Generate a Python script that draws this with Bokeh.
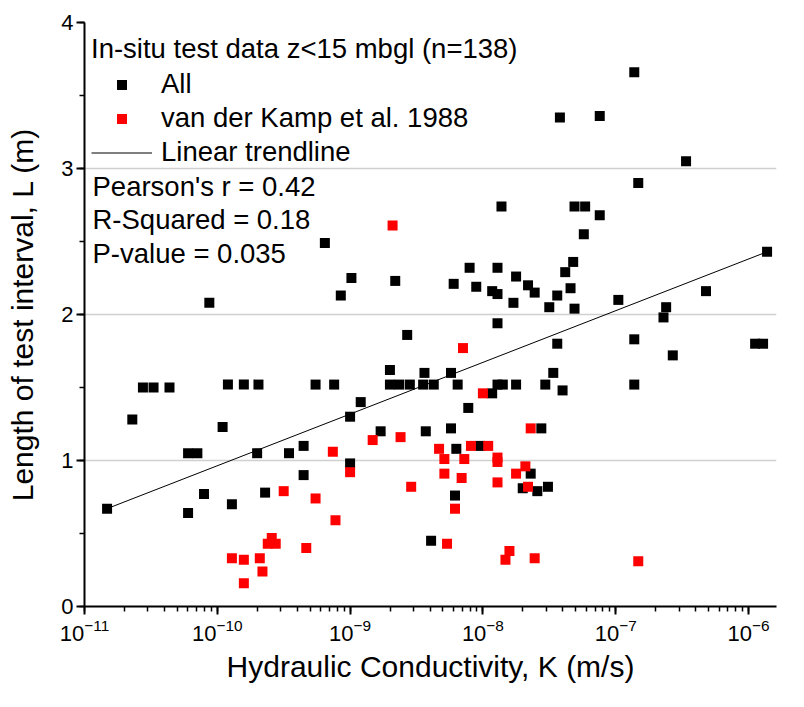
import numpy as np
from bokeh.plotting import figure
from bokeh.models import (ColumnDataSource, Legend, LegendItem, Label, FixedTicker,
                          SingleIntervalTicker, LogTicker, Range1d)
from bokeh.embed import file_html
from bokeh.resources import INLINE

# ---- data: log10 of hydraulic conductivity K (m/s) and test-interval length L (m)
all_log10_k = [-10.83, -10.64, -10.56, -10.48, -10.36, -10.06, -9.96, -10.22, -10.15, -9.70,
               -10.10, -10.22, -9.89, -9.64, -9.92, -9.80, -9.69, -9.26, -9.12, -9.46,
               -9.35, -9.35, -9.00, -8.92, -9.00, -8.77, -8.43, -8.24, -8.20, -8.11,
               -8.39, -8.21, -9.19, -8.99, -9.07, -8.66, -8.22, -8.10, -8.05, -8.57,
               -8.70, -8.44, -8.24, -8.70, -8.63, -8.55, -8.45, -8.37, -8.19, -7.86,
               -7.89, -7.93, -7.89, -7.75, -7.77, -7.66, -7.61, -7.89, -7.89, -7.85,
               -7.75, -7.93, -8.02, -7.64, -7.70, -7.59, -7.51, -7.56, -7.53, -7.40,
               -6.86, -6.86, -7.42, -7.12, -6.47, -6.83, -7.31, -7.23, -7.12, -7.24,
               -7.32, -7.38, -7.50, -7.44, -7.34, -7.31, -6.98, -6.32, -6.62, -6.64,
               -6.86, -7.44, -6.57, -7.47, -5.95, -5.89, -5.86]
all_length = [0.67, 1.28, 1.50, 1.50, 1.50, 2.08, 1.23, 1.05, 1.05, 1.05,
              0.77, 0.64, 0.70, 0.78, 1.52, 1.52, 1.52, 1.52, 1.52, 1.05,
              1.10, 0.90, 1.30, 1.40, 0.98, 1.20, 1.20, 1.22, 1.08, 1.36,
              0.45, 0.76, 2.49, 2.25, 2.13, 2.23, 2.21, 2.32, 2.19, 1.86,
              1.62, 1.60, 1.60, 1.52, 1.52, 1.52, 1.52, 1.52, 1.52, 2.74,
              2.32, 2.16, 2.14, 2.26, 2.08, 2.20, 2.15, 1.94, 1.52, 1.52,
              1.52, 1.46, 1.10, 0.91, 0.81, 0.79, 0.82, 1.22, 1.52, 1.48,
              1.52, 3.66, 3.35, 3.36, 3.05, 2.90, 2.74, 2.74, 2.68, 2.55,
              2.36, 2.29, 2.05, 2.13, 2.18, 2.04, 2.10, 2.16, 2.05, 1.98,
              1.83, 1.80, 1.72, 1.60, 1.80, 1.80, 2.43]

vdk_log10_k = [-9.89, -9.80, -9.68, -9.66, -9.80, -9.62, -9.56, -9.59, -9.50, -9.26,
               -9.11, -9.33, -9.13, -9.00, -8.83, -8.62, -8.33, -8.29, -8.14, -8.09,
               -8.29, -8.16, -8.54, -8.21, -8.27, -8.68, -8.15, -8.00, -7.96, -7.89,
               -7.89, -7.89, -7.68, -7.75, -7.66, -7.64, -7.80, -7.83, -7.61, -6.83]
vdk_length = [0.33, 0.32, 0.33, 0.24, 0.16, 0.43, 0.43, 0.47, 0.79, 0.74,
              0.59, 0.40, 1.06, 0.92, 1.14, 1.16, 1.08, 1.01, 1.01, 1.10,
              0.91, 0.88, 0.82, 0.67, 0.43, 2.61, 1.77, 1.46, 1.10, 1.02,
              0.99, 0.85, 0.96, 0.91, 0.82, 1.22, 0.38, 0.32, 0.33, 0.31]

# linear trendline L = intercept + slope * log10(K)
trend_slope = 0.354
trend_intercept = 4.504

stats_lines = ["Pearson's r = 0.42", "R-Squared = 0.18", "P-value = 0.035"]

FONT = "Liberation Sans"
LEG_SIZE = "27.5px"

all_k = [10 ** v for v in all_log10_k]
vdk_k = [10 ** v for v in vdk_log10_k]
all_logs = all_log10_k + vdk_log10_k
t_log = np.array([min(all_logs), max(all_logs)])
trend_src = ColumnDataSource(dict(k=10 ** t_log, l=trend_intercept + trend_slope * t_log))

p = figure(width=804, height=707, x_axis_type="log", output_backend="svg",
           toolbar_location=None,
           x_range=Range1d(1e-11, 10 ** -5.789), y_range=Range1d(0, 4),
           min_border_left=84, min_border_right=28, min_border_top=22,
           min_border_bottom=101)
p.outline_line_color = None
p.background_fill_color = "white"
p.border_fill_color = "white"

r_line = p.line("k", "l", source=trend_src, line_color="black", line_width=1)
r_all = p.scatter(all_k, all_length, marker="square", size=10,
                  fill_color="black", line_color=None)
r_vdk = p.scatter(vdk_k, vdk_length, marker="square", size=10,
                  fill_color="#ff0000", line_color=None)

# grid
p.xgrid.visible = False
p.ygrid.ticker = FixedTicker(ticks=[1, 2, 3])
p.ygrid.grid_line_color = "#d0d0d0"
p.ygrid.grid_line_width = 1.5

# axes
p.yaxis.ticker = SingleIntervalTicker(interval=1, num_minor_ticks=2)
p.xaxis.ticker = LogTicker(num_minor_ticks=10)
for ax in (p.xaxis, p.yaxis):
    ax.axis_line_width = 2
    ax.axis_line_color = "black"
    ax.major_tick_line_width = 2
    ax.minor_tick_line_width = 1.5
    ax.major_tick_line_color = "black"
    ax.minor_tick_line_color = "black"
    ax.major_tick_in = 0
    ax.major_tick_out = 8
    ax.minor_tick_in = 0
    ax.minor_tick_out = 5
    ax.major_label_text_font = FONT
    ax.major_label_text_font_size = "22px"
    ax.major_label_text_color = "black"
    ax.axis_label_text_font = FONT
    ax.axis_label_text_font_size = "30px"
    ax.axis_label_text_font_style = "normal"
    ax.axis_label_text_color = "black"
p.xaxis.axis_label = "Hydraulic Conductivity, K (m/s)"
p.yaxis.axis_label = "Length of test interval, L (m)"
p.xaxis.major_label_standoff = 4
p.yaxis.major_label_standoff = 3
p.xaxis.axis_label_standoff = 6
p.yaxis.axis_label_standoff = 19

legend = Legend(items=[LegendItem(label="All", renderers=[r_all]),
                       LegendItem(label="van der Kamp et al. 1988", renderers=[r_vdk]),
                       LegendItem(label="Linear trendline", renderers=[r_line])],
                title="In-situ test data z<15 mbgl (n=138)",
                location=(7, 437))
legend.title_text_font = FONT
legend.title_text_font_size = LEG_SIZE
legend.title_text_font_style = "normal"
legend.title_text_color = "black"
legend.title_standoff = 2
legend.label_text_font = FONT
legend.label_text_font_size = LEG_SIZE
legend.label_text_color = "black"
legend.label_standoff = 9
legend.label_height = 34
legend.glyph_height = 25
legend.glyph_width = 61
legend.spacing = 0
legend.padding = 0
legend.margin = 0
legend.border_line_color = None
legend.background_fill_alpha = 0
p.add_layout(legend)

for i, txt in enumerate(stats_lines):
    p.add_layout(Label(x=8, y=420.5 - 33.5 * i, x_units="screen", y_units="screen",
                       text=txt, text_font=FONT, text_font_size=LEG_SIZE,
                       text_color="black", text_baseline="alphabetic",
                       text_align="left"))

open("out.html", "w").write(file_html(p, INLINE))
